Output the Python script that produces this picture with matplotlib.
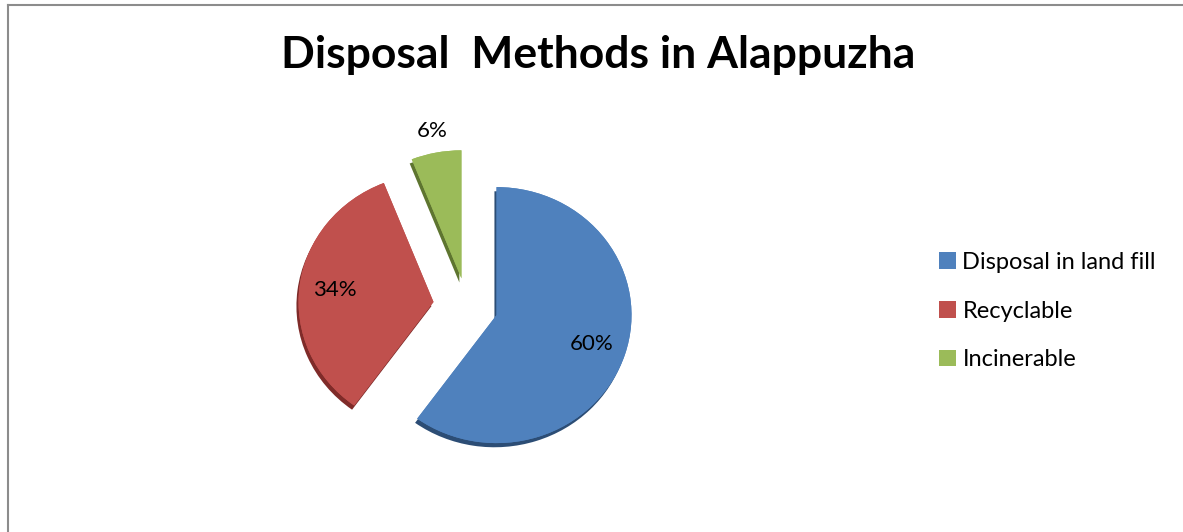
import matplotlib
matplotlib.use("Agg")
import matplotlib.pyplot as plt
import matplotlib.patheffects as pe
from matplotlib.lines import Line2D
from matplotlib.patches import Patch
import numpy as np

# chart data
methods = ["Disposal in land fill", "Recyclable", "Incinerable"]
shares = [60, 34, 6]
colors = ["#4F81BD", "#C0504D", "#9BBB59"]
shade = ["#2C4D75", "#7F2B29", "#5E7530"]

plt.rcParams["font.family"] = ["Lato", "DejaVu Sans"]

W, H = 1183, 532
fig = plt.figure(figsize=(W / 100, H / 100), dpi=100)
ax = fig.add_axes([0, 0, 1, 1])

# pixel layout of the pie: centre and radii (slightly wider than tall)
cx, cy = 467, 306
rx, ry = 135, 128

explode = [0.23, 0.25, 0.22]
wedges, texts, autotexts = ax.pie(
    shares, colors=colors, explode=explode, startangle=90, counterclock=False,
    autopct="%d%%", pctdistance=0.74, radius=1,
    textprops=dict(fontsize=16, color="black"),
    wedgeprops=dict(linewidth=0),
    frame=True,
)
ax.axis("off")
ax.set_aspect("auto")
ax.set_xlim(-cx / rx, (W - cx) / rx)
ax.set_ylim(-(H - cy) / ry, cy / ry)

for w, s in zip(wedges, shade):
    w.set_path_effects([pe.withSimplePatchShadow(offset=(-1.5, -3), shadow_rgbFace=s, alpha=1.0),
                        pe.Normal()])

# small slice label sits outside its wedge
w = wedges[2]
mid = np.deg2rad((w.theta1 + w.theta2) / 2)
vx, vy = w.center
autotexts[2].set_position((vx + 1.17 * np.cos(mid), vy + 1.17 * np.sin(mid)))

fig.text(598 / W, 1 - 55 / H, "Disposal  Methods in Alappuzha", ha="center", va="center",
         fontsize=32, fontweight="bold")

handles = [Patch(facecolor=c, edgecolor="none") for c in colors]
fig.legend(handles, methods, loc="center left", bbox_to_anchor=(918 / W, 1 - 311 / H),
           frameon=False, fontsize=17, handlelength=0.7, handleheight=0.7,
           handletextpad=0.28, labelspacing=1.18)

# chart frame (top and left edges)
fig.add_artist(Line2D([8 / W, 1], [1 - 5 / H, 1 - 5 / H], color="#8C8C8C", lw=1.5))
fig.add_artist(Line2D([8 / W, 8 / W], [0, 1 - 5 / H], color="#8C8C8C", lw=1.5))

fig.savefig("out.png", dpi=100, facecolor="white")
